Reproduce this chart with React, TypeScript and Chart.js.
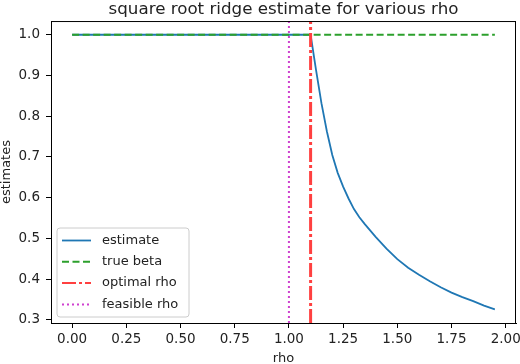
import React, { useEffect, useRef } from "react";
import { Chart, registerables } from "chart.js";

Chart.register(...registerables);

const rho = [
  0, 0.05, 0.1, 0.15, 0.2, 0.25, 0.3, 0.35, 0.4, 0.45, 0.5, 0.55, 0.6, 0.65, 0.7, 0.75,
  0.8, 0.85, 0.9, 0.95, 1.0, 1.05, 1.1, 1.125, 1.15, 1.175, 1.2, 1.225, 1.25, 1.275, 1.3,
  1.325, 1.35, 1.4, 1.45, 1.5, 1.55, 1.6, 1.65, 1.7, 1.75, 1.8, 1.85, 1.9, 1.95,
];
const estimate = [
  1, 1, 1, 1, 1, 1, 1, 1, 1, 1, 1, 1, 1, 1, 1, 1,
  1, 1, 1, 1, 1, 1, 1, 0.914, 0.832, 0.763, 0.705, 0.661, 0.627, 0.598, 0.572,
  0.552, 0.535, 0.504, 0.475, 0.449, 0.428, 0.411, 0.395, 0.38, 0.367, 0.356, 0.346, 0.335, 0.326,
];
const trueBeta = 1.0;
const optimalRho = 1.1;
const feasibleRho = 1.0;

const xTicks = [0, 0.25, 0.5, 0.75, 1.0, 1.25, 1.5, 1.75, 2.0];
const yTicks = [0.3, 0.4, 0.5, 0.6, 0.7, 0.8, 0.9, 1.0];

const seriesNames = ["estimate", "true beta", "optimal rho", "feasible rho"];

const FONT = "'DejaVu Sans', sans-serif";
const TEXT = "#222";
const BLUE = "#1f77b4";
const GREEN = "#2ca02c";
const RED = "#ff4040";
const MAGENTA = "#cf40cf";

const styles = [
  { color: BLUE, dash: [] as number[], width: 1.8 },
  { color: GREEN, dash: [7, 3.5], width: 2 },
  { color: RED, dash: [14, 3, 3, 3], width: 3 },
  { color: MAGENTA, dash: [2, 3], width: 2 },
];

export default function App() {
  const ref = useRef<HTMLCanvasElement>(null);

  useEffect(() => {
    if (!ref.current) return;
    const xMin0 = Math.min(...rho);
    const xMax0 = Math.max(...rho);
    const xPad = (xMax0 - xMin0) * 0.05;
    const yMin0 = Math.min(...estimate, trueBeta);
    const yMax0 = Math.max(...estimate, trueBeta);
    const yPad = (yMax0 - yMin0) * 0.05;
    const yLo = yMin0 - yPad;
    const yHi = yMax0 + yPad;

    const framePlugin = {
      id: "frameAndLegend",
      afterDraw(chart: any) {
        const ctx = chart.ctx as CanvasRenderingContext2D;
        const a = chart.chartArea;
        ctx.save();
        ctx.strokeStyle = "#000";
        ctx.lineWidth = 1;
        ctx.beginPath();
        ctx.moveTo(a.left, a.top + 0.5);
        ctx.lineTo(a.right, a.top + 0.5);
        ctx.moveTo(a.right - 0.5, a.top);
        ctx.lineTo(a.right - 0.5, a.bottom);
        ctx.stroke();

        // legend
        const bx = a.left + 6;
        const bw = 132;
        const bh = 89;
        const by = a.bottom - 6 - bh;
        const r = 3;
        ctx.beginPath();
        ctx.moveTo(bx + r, by);
        ctx.lineTo(bx + bw - r, by);
        ctx.arcTo(bx + bw, by, bx + bw, by + r, r);
        ctx.lineTo(bx + bw, by + bh - r);
        ctx.arcTo(bx + bw, by + bh, bx + bw - r, by + bh, r);
        ctx.lineTo(bx + r, by + bh);
        ctx.arcTo(bx, by + bh, bx, by + bh - r, r);
        ctx.lineTo(bx, by + r);
        ctx.arcTo(bx, by, bx + r, by, r);
        ctx.closePath();
        ctx.fillStyle = "rgba(255,255,255,0.8)";
        ctx.fill();
        ctx.strokeStyle = "#cccccc";
        ctx.lineWidth = 1;
        ctx.stroke();

        ctx.font = `13px ${FONT}`;
        ctx.textBaseline = "middle";
        ctx.textAlign = "left";
        seriesNames.forEach((name, i) => {
          const yy = by + 12.5 + i * 21.3;
          const st = styles[i];
          ctx.beginPath();
          ctx.setLineDash(st.dash);
          ctx.strokeStyle = st.color;
          ctx.lineWidth = i === 2 ? 2 : st.width;
          ctx.moveTo(bx + 5, yy);
          ctx.lineTo(bx + 34, yy);
          ctx.stroke();
          ctx.setLineDash([]);
          ctx.fillStyle = TEXT;
          ctx.fillText(name, bx + 45, yy);
        });
        ctx.restore();
      },
    };

    const chart = new Chart(ref.current, {
      type: "line",
      data: {
        datasets: [
          {
            label: seriesNames[0],
            data: rho.map((x, i) => ({ x, y: estimate[i] })),
            borderColor: styles[0].color,
            borderWidth: styles[0].width,
            borderDash: styles[0].dash,
            pointRadius: 0,
            tension: 0,
            order: 4,
          },
          {
            label: seriesNames[1],
            data: rho.map((x) => ({ x, y: trueBeta })),
            borderColor: styles[1].color,
            borderWidth: styles[1].width,
            borderDash: styles[1].dash,
            pointRadius: 0,
            order: 3,
          },
          {
            label: seriesNames[2],
            data: [
              { x: optimalRho, y: yLo },
              { x: optimalRho, y: yHi },
            ],
            borderColor: styles[2].color,
            borderWidth: styles[2].width,
            borderDash: styles[2].dash,
            pointRadius: 0,
            order: 2,
          },
          {
            label: seriesNames[3],
            data: [
              { x: feasibleRho, y: yLo },
              { x: feasibleRho, y: yHi },
            ],
            borderColor: styles[3].color,
            borderWidth: styles[3].width,
            borderDash: styles[3].dash,
            pointRadius: 0,
            order: 1,
          },
        ],
      },
      options: {
        responsive: false,
        animation: false,
        events: [],
        layout: { padding: { left: 0, right: 4, top: 0, bottom: 0 } },
        plugins: {
          legend: { display: false },
          tooltip: { enabled: false },
          title: {
            display: true,
            fullSize: false,
            text: "square root ridge estimate for various rho",
            color: TEXT,
            font: { family: FONT, size: 16.7, weight: "normal", lineHeight: 1.2 },
            padding: { top: 0, bottom: 1 },
          },
        },
        scales: {
          x: {
            type: "linear",
            min: xMin0 - xPad,
            max: xMax0 + xPad,
            afterBuildTicks: (s: any) => {
              s.ticks = xTicks.map((v) => ({ value: v }));
            },
            afterFit: (s: any) => {
              s.height = 41;
              s.paddingLeft = 0;
              s.paddingRight = 0;
            },
            ticks: {
              color: TEXT,
              font: { family: FONT, size: 13.5 },
              padding: 3,
              maxRotation: 0,
              autoSkip: false,
              callback: (v: any) => Number(v).toFixed(2),
            },
            grid: {
              drawOnChartArea: false,
              drawTicks: true,
              tickLength: 5,
              tickColor: "#000",
              color: "#000",
            },
            border: { display: true, color: "#000", width: 1 },
            title: {
              display: true,
              text: "rho",
              color: TEXT,
              font: { family: FONT, size: 13, lineHeight: 1 },
              padding: { top: 0, bottom: -1 },
            },
          },
          y: {
            type: "linear",
            min: yLo,
            max: yHi,
            afterBuildTicks: (s: any) => {
              s.ticks = yTicks.map((v) => ({ value: v }));
            },
            afterFit: (s: any) => {
              s.width = 51;
              s.paddingTop = 0;
              s.paddingBottom = 0;
            },
            ticks: {
              color: TEXT,
              font: { family: FONT, size: 13.5 },
              padding: 6,
              autoSkip: false,
              callback: (v: any) => Number(v).toFixed(1),
            },
            grid: {
              drawOnChartArea: false,
              drawTicks: true,
              tickLength: 5,
              tickColor: "#000",
              color: "#000",
            },
            border: { display: true, color: "#000", width: 1 },
            title: {
              display: true,
              text: "estimates",
              color: TEXT,
              font: { family: FONT, size: 13, lineHeight: 1 },
              padding: { top: 0, bottom: 0 },
            },
          },
        },
      },
      plugins: [framePlugin],
    } as any);

    return () => chart.destroy();
  }, []);

  return (
    <div style={{ position: "absolute", left: 0, top: 0, width: 520, height: 364, background: "#fff" }}>
      <canvas ref={ref} width={520} height={364} style={{ display: "block", width: 520, height: 364 }} />
    </div>
  );
}
